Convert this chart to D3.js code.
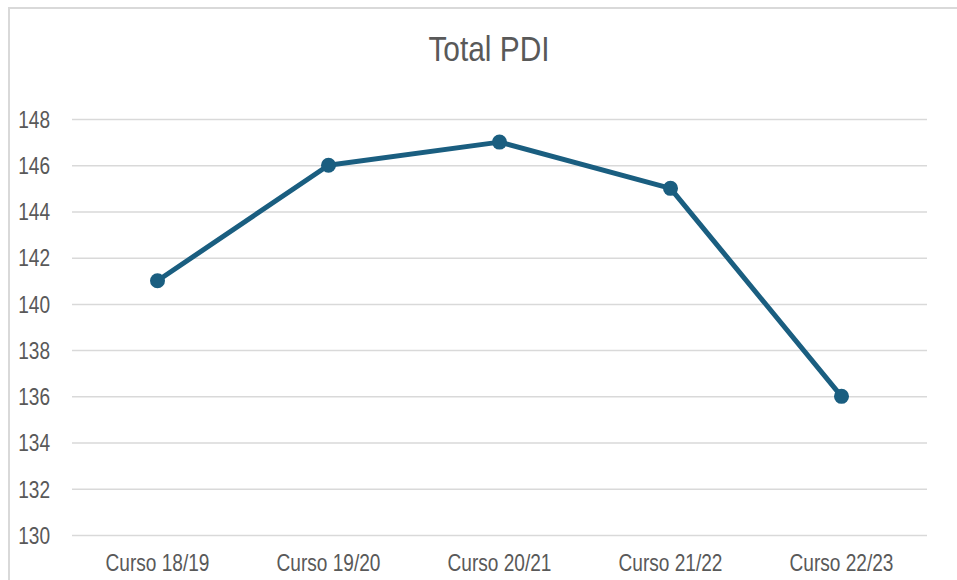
<!DOCTYPE html>
<html>
<head>
<meta charset="utf-8">
<script src="https://cdn.jsdelivr.net/npm/d3@7"></script>
<style>
  body { margin: 0; background: #fff; }
  text { font-family: "Liberation Sans", Arial, sans-serif; fill: #595959; }
</style>
</head>
<body>
<svg id="chart"></svg>
<script>
var cursos = ["Curso 18/19", "Curso 19/20", "Curso 20/21", "Curso 21/22", "Curso 22/23"]
var totalPdi = [141, 146, 147, 145, 136]
var yTicks = [130, 132, 134, 136, 138, 140, 142, 144, 146, 148]

var width = 957
var height = 580
// no narrow font installed, so squeeze regular sans horizontally
var narrow = 0.83

var svg = d3.select("#chart")
    .attr("width", width)
    .attr("height", height)

// outer frame
svg.append("rect")
    .attr("x", 9)
    .attr("y", 8)
    .attr("width", width)
    .attr("height", height)
    .attr("fill", "none")
    .attr("stroke", "#d9d9d9")
    .attr("stroke-width", 2)

svg.append("text")
    .attr("transform", "scale(" + narrow + ",1)")
    .attr("x", 489 / narrow)
    .attr("y", 61)
    .attr("text-anchor", "middle")
    .style("font-size", "36px")
    .text("Total PDI")

var x = d3.scaleBand()
    .domain(cursos)
    .range([72, 927])

var y = d3.scaleLinear()
    .domain([130, 148])
    .range([535, 119])

var yAxis = svg.append("g")
    .attr("transform", "translate(72,0)")
    .call(d3.axisLeft(y).tickValues(yTicks).tickSize(-855).tickFormat(d3.format("d")))

yAxis.select(".domain").remove()
yAxis.selectAll(".tick line")
    .attr("stroke", "#d9d9d9")
    .attr("stroke-width", 1.5)
yAxis.selectAll(".tick text")
    .style("font-size", "23px")
    .attr("fill", "#595959")
    .attr("transform", "scale(" + narrow + ",1)")
    .attr("x", -22 / narrow)
    .attr("dy", "0.36em")

var xAxis = svg.append("g")
    .attr("transform", "translate(0,535)")
    .call(d3.axisBottom(x).tickSize(0))

xAxis.select(".domain").remove()
xAxis.selectAll(".tick text")
    .style("font-size", "23px")
    .attr("fill", "#595959")
    .attr("transform", "scale(" + narrow + ",1)")
    .attr("y", 20)
    .attr("dy", "0.71em")

var pts = cursos.map(function(c, i) { return {c: c, v: totalPdi[i]} })

svg.append("path")
    .datum(pts)
    .attr("fill", "none")
    .attr("stroke", "#1a5e80")
    .attr("stroke-width", 5)
    .attr("stroke-linejoin", "round")
    .attr("d", d3.line()
        .x(function(d) { return x(d.c) + x.bandwidth() / 2 })
        .y(function(d) { return y(d.v) })
    )

svg.selectAll("circle.pt")
    .data(pts)
    .enter()
    .append("circle")
    .attr("class", "pt")
    .attr("cx", function(d) { return x(d.c) + x.bandwidth() / 2 })
    .attr("cy", function(d) { return y(d.v) })
    .attr("r", 7.5)
    .attr("fill", "#1a5e80")
</script>
</body>
</html>
